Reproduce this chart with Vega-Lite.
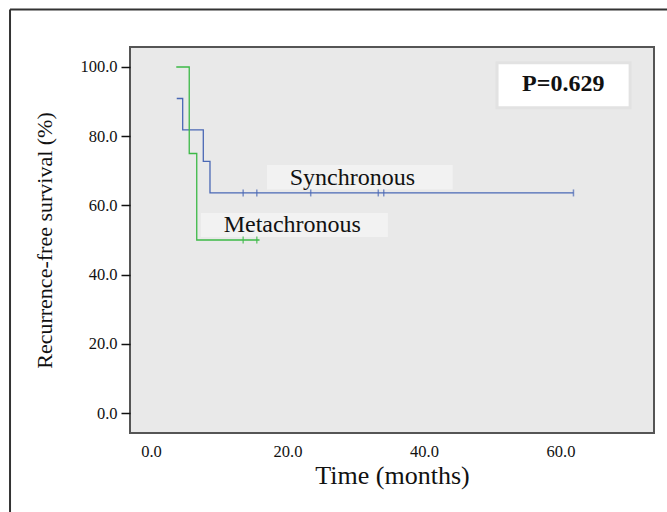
{
  "$schema": "https://vega.github.io/schema/vega-lite/v6.json",
  "width": 524,
  "height": 386,
  "autosize": "none",
  "padding": {"left": 130, "top": 47, "right": 13, "bottom": 79},
  "background": "white",
  "config": {
    "view": {"fill": "#e9e9e9", "stroke": "#555555", "strokeWidth": 2},
    "font": "Liberation Serif"
  },
  "datasets": {
    "steps": [
      {"group": "Synchronous", "time": 3.77, "surv": 90.9},
      {"group": "Synchronous", "time": 4.64, "surv": 81.8},
      {"group": "Synchronous", "time": 7.66, "surv": 72.7},
      {"group": "Synchronous", "time": 8.64, "surv": 63.6},
      {"group": "Synchronous", "time": 61.9, "surv": 63.6},
      {"group": "Metachronous", "time": 3.7, "surv": 100},
      {"group": "Metachronous", "time": 5.6, "surv": 75},
      {"group": "Metachronous", "time": 6.7, "surv": 50},
      {"group": "Metachronous", "time": 15.9, "surv": 50}
    ],
    "censored": [
      {"group": "Synchronous", "time": 13.5, "surv": 63.6},
      {"group": "Synchronous", "time": 15.5, "surv": 63.6},
      {"group": "Synchronous", "time": 23.4, "surv": 63.6},
      {"group": "Synchronous", "time": 33.3, "surv": 63.6},
      {"group": "Synchronous", "time": 34.1, "surv": 63.6},
      {"group": "Synchronous", "time": 61.9, "surv": 63.6},
      {"group": "Metachronous", "time": 13.5, "surv": 50},
      {"group": "Metachronous", "time": 15.5, "surv": 50}
    ],
    "one": [{}]
  },
  "layer": [
    {
      "data": {"name": "one"},
      "mark": {"type": "rule", "stroke": "#333333", "strokeWidth": 2, "clip": false},
      "encoding": {
        "x": {"datum": -20.66, "type": "quantitative"},
        "y": {"datum": 116.6, "type": "quantitative"},
        "y2": {"datum": -40}
      }
    },
    {
      "data": {"name": "one"},
      "mark": {"type": "rule", "stroke": "#333333", "strokeWidth": 2, "clip": false},
      "encoding": {
        "x": {"datum": -20.66, "type": "quantitative"},
        "x2": {"datum": 85},
        "y": {"datum": 116.6, "type": "quantitative"}
      }
    },
    {
      "data": {"name": "one"},
      "mark": {"type": "rect", "fill": "#f2f2f2"},
      "encoding": {
        "x": {"datum": 17.0, "type": "quantitative"},
        "x2": {"datum": 44.2},
        "y": {"datum": 71.7, "type": "quantitative"},
        "y2": {"datum": 64.6}
      }
    },
    {
      "data": {"name": "one"},
      "mark": {"type": "rect", "fill": "#f2f2f2"},
      "encoding": {
        "x": {"datum": 7.3, "type": "quantitative"},
        "x2": {"datum": 34.7},
        "y": {"datum": 57.8, "type": "quantitative"},
        "y2": {"datum": 50.9}
      }
    },
    {
      "data": {"name": "one"},
      "mark": {"type": "rect", "fill": "#ffffff", "stroke": "#e2e2e2", "strokeWidth": 3},
      "encoding": {
        "x": {"datum": 50.7, "type": "quantitative"},
        "x2": {"datum": 70.2},
        "y": {"datum": 101.2, "type": "quantitative"},
        "y2": {"datum": 88.2}
      }
    },
    {
      "data": {"name": "steps"},
      "mark": {"type": "line", "interpolate": "step-after", "strokeWidth": 1.3},
      "encoding": {
        "x": {
          "field": "time",
          "type": "quantitative",
          "scale": {"domain": [-3.08, 73.7], "nice": false, "zero": false},
          "axis": {
            "values": [0, 20, 40, 60],
            "format": ".1f",
            "ticks": false,
            "domain": false,
            "grid": false,
            "labelFont": "Liberation Serif",
            "labelFontSize": 16.5,
            "labelColor": "#111111",
            "labelPadding": 10,
            "title": "Time (months)",
            "titleFont": "Liberation Serif",
            "titleFontSize": 26,
            "titleFontWeight": "normal",
            "titleColor": "#111111",
            "titlePadding": 3
          }
        },
        "y": {
          "field": "surv",
          "type": "quantitative",
          "scale": {"domain": [-5.78, 105.78], "nice": false, "zero": false},
          "axis": {
            "values": [0, 20, 40, 60, 80, 100],
            "format": ".1f",
            "tickSize": 9,
            "tickWidth": 1.5,
            "tickColor": "#111111",
            "domain": false,
            "grid": false,
            "labelFont": "Liberation Serif",
            "labelFontSize": 16.5,
            "labelColor": "#111111",
            "labelPadding": 4,
            "title": "Recurrence-free survival (%)",
            "titleFont": "Liberation Serif",
            "titleFontSize": 22,
            "titleFontWeight": "normal",
            "titleColor": "#111111",
            "titlePadding": 23
          }
        },
        "color": {
          "field": "group",
          "type": "nominal",
          "scale": {"domain": ["Synchronous", "Metachronous"], "range": ["#4a68b5", "#3cb947"]},
          "legend": null
        }
      }
    },
    {
      "data": {"name": "censored"},
      "mark": {"type": "tick", "orient": "vertical", "size": 7, "thickness": 1.5},
      "encoding": {
        "x": {"field": "time", "type": "quantitative"},
        "y": {"field": "surv", "type": "quantitative"},
        "color": {"field": "group", "type": "nominal", "legend": null}
      }
    },
    {
      "data": {"name": "one"},
      "mark": {"type": "text", "text": "Synchronous", "font": "Liberation Serif", "fontSize": 24, "color": "#111111", "align": "center", "baseline": "middle"},
      "encoding": {
        "x": {"datum": 29.5, "type": "quantitative"},
        "y": {"datum": 68.0, "type": "quantitative"}
      }
    },
    {
      "data": {"name": "one"},
      "mark": {"type": "text", "text": "Metachronous", "font": "Liberation Serif", "fontSize": 24, "color": "#111111", "align": "center", "baseline": "middle"},
      "encoding": {
        "x": {"datum": 20.7, "type": "quantitative"},
        "y": {"datum": 54.2, "type": "quantitative"}
      }
    },
    {
      "data": {"name": "one"},
      "mark": {"type": "text", "text": "P=0.629", "font": "Liberation Serif", "fontSize": 24, "fontWeight": "bold", "color": "#111111", "align": "center", "baseline": "middle"},
      "encoding": {
        "x": {"datum": 60.4, "type": "quantitative"},
        "y": {"datum": 95.1, "type": "quantitative"}
      }
    }
  ]
}
